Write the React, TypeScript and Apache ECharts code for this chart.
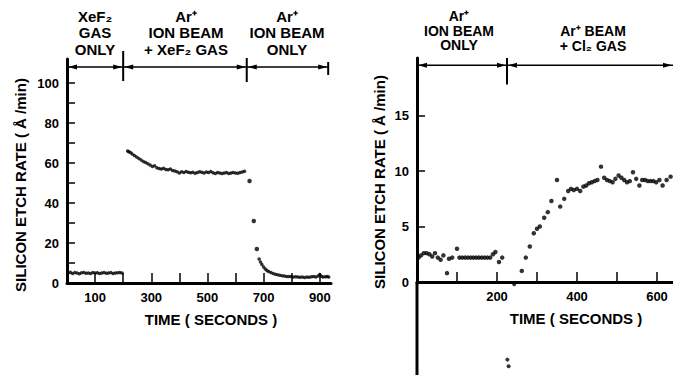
import React, { useEffect, useRef } from "react";
import * as echarts from "echarts";

const FONT = '"Liberation Sans", Arial, sans-serif';

// Left panel: silicon etch rate (Å/min) vs time (s) under XeF2 gas and Ar+ ion beam
const xef2GasOnly: [number, number][] = [
  [4, 5.0], [12, 5.4], [20, 4.8], [28, 5.2], [36, 5.0], [44, 4.6], [52, 5.1], [60, 5.3],
  [68, 4.9], [76, 5.0], [84, 4.7], [92, 5.2], [100, 5.0], [108, 5.1], [116, 4.8], [124, 5.0],
  [132, 5.3], [140, 4.9], [148, 5.0], [156, 5.2], [164, 4.8], [172, 5.0], [180, 5.1], [188, 5.3],
  [196, 5.0],
];

const ionBeamPlusXef2: [number, number][] = [
  [216, 66.0], [220, 65.6], [226, 65.2], [232, 64.5], [240, 63.8], [248, 63.0], [256, 62.2],
  [264, 61.5], [272, 60.8], [280, 60.2], [288, 59.6], [296, 59.0], [304, 58.2], [312, 58.6],
  [320, 57.6], [328, 57.3], [336, 57.0], [344, 57.4], [352, 56.8], [360, 56.6], [368, 57.0],
  [376, 56.3], [384, 56.0], [392, 55.6], [400, 55.0], [408, 55.6], [416, 55.3], [424, 55.8],
  [432, 55.4], [440, 55.1], [448, 55.4], [456, 54.9], [464, 55.3], [472, 55.6], [480, 55.4],
  [488, 55.0], [496, 55.5], [504, 55.2], [512, 55.7], [520, 55.1], [528, 54.8], [536, 55.2],
  [544, 55.0], [552, 54.7], [560, 55.0], [568, 55.3], [576, 54.8], [584, 55.0], [592, 55.2],
  [600, 55.0], [608, 54.9], [616, 55.3], [624, 55.5], [632, 55.9],
];

const xef2Decay: [number, number][] = [[650, 51], [665, 31], [676, 17]];

const ionBeamOnlyLeft: [number, number][] = [
  [684, 12.0], [689, 10.5], [694, 9.2], [700, 8.0], [706, 7.0], [712, 6.3], [718, 5.7],
  [726, 5.2], [734, 4.8], [742, 4.4], [750, 4.1], [758, 3.9], [766, 3.6], [774, 3.5],
  [782, 3.3], [790, 3.2], [798, 3.3], [806, 3.0], [814, 3.1], [822, 3.0], [830, 2.9],
  [838, 3.0], [846, 2.8], [854, 3.0], [862, 2.9], [870, 3.1], [878, 3.2], [886, 3.0],
  [894, 3.5], [900, 4.2], [906, 3.4], [912, 3.0], [920, 3.1], [926, 3.2], [932, 3.0],
];

// Right panel: Ar+ ion beam alone, then with Cl2 gas
const ionBeamOnlyRight: [number, number][] = [
  [4, 2.2], [10, 2.4], [17, 2.6], [24, 2.6], [31, 2.5], [38, 2.3], [45, 2.6], [52, 2.2],
  [59, 2.0], [66, 2.4], [75, 0.8], [80, 2.1], [88, 2.2], [100, 3.0], [106, 2.2], [113, 2.2],
  [120, 2.2], [127, 2.2], [134, 2.2], [141, 2.2], [148, 2.2], [155, 2.2], [162, 2.2],
  [169, 2.2], [176, 2.2], [183, 2.2], [190, 2.5], [196, 2.7], [205, 1.8], [213, 2.2],
];

const strayPoints: [number, number][] = [[226, -7.0], [229, -7.6], [243, -0.2]];

const ionBeamPlusCl2: [number, number][] = [
  [262, 1.0], [272, 2.2], [282, 3.2], [292, 4.4], [300, 4.8], [307, 5.0], [318, 5.8],
  [327, 6.3], [336, 7.3], [350, 9.2], [358, 6.8], [368, 7.5], [378, 8.2], [385, 8.4],
  [392, 8.3], [400, 8.4], [408, 8.2], [416, 8.6], [423, 8.7], [430, 8.9], [437, 9.0],
  [444, 9.1], [451, 9.2], [460, 10.4], [468, 9.4], [475, 9.2], [482, 9.1], [489, 9.0],
  [496, 9.3], [504, 9.6], [511, 9.4], [518, 9.2], [525, 9.0], [532, 9.1], [540, 9.9],
  [548, 9.3], [556, 8.7], [563, 9.2], [570, 9.2], [577, 9.1], [584, 9.1], [591, 9.1],
  [598, 9.0], [606, 9.2], [614, 8.7], [624, 9.2], [634, 9.5],
];

// Axis ticks and labels
const leftXTicks = [100, 200, 300, 400, 500, 600, 700, 800, 900];
const leftXLabels = [100, 300, 500, 700, 900];
const leftYTicks = [10, 20, 30, 40, 50, 60, 70, 80, 90, 100];
const leftYLabels = [0, 20, 40, 60, 80, 100];
const rightXTicks = [100, 200, 300, 400, 500, 600];
const rightXLabels = [200, 400, 600];
const rightYTicks = [5, 10, 15];
const rightYLabels = [0, 5, 10, 15];

// Process phases shown by the arrows above each panel
const leftPhases = [0, 200, 640, 930];
const rightPhases = [0, 225, 640];

const leftTitles = [
  { x: 95, text: "XeF₂\nGAS\nONLY" },
  { x: 186, text: "Ar⁺\nION BEAM\n+ XeF₂ GAS" },
  { x: 287, text: "Ar⁺\nION BEAM\nONLY" },
];
const rightTitles = [
  { x: 459, y: 30.5, text: "Ar⁺\nION BEAM\nONLY" },
  { x: 593, y: 38.5, text: "Ar⁺ BEAM\n+ Cl₂ GAS" },
];

const axisLabelStyle = {
  color: "#000",
  fontFamily: FONT,
  fontWeight: "bold" as const,
  fontSize: 13,
};

function makeXAxis(gridIndex: number, max: number, ticks: number[], labels: number[]) {
  return {
    type: "value",
    gridIndex,
    min: 0,
    max,
    splitLine: { show: false },
    axisLine: { show: true, onZero: false, lineStyle: { color: "#000", width: 3 } },
    axisTick: { show: true, inside: true, length: 10, lineStyle: { color: "#000", width: 1.5 }, customValues: ticks },
    axisLabel: { ...axisLabelStyle, margin: 8, customValues: labels },
  };
}

function makeYAxis(gridIndex: number, max: number, ticks: number[], labels: number[]) {
  return {
    type: "value",
    gridIndex,
    min: 0,
    max,
    splitLine: { show: false },
    axisLine: { show: true, onZero: false, lineStyle: { color: "#000", width: 3 } },
    axisTick: { show: true, inside: true, length: 8, lineStyle: { color: "#000", width: 1.5 }, customValues: ticks },
    axisLabel: { ...axisLabelStyle, margin: 8, customValues: labels },
  };
}

function dots(data: [number, number][], gridIndex: number, size: number) {
  return {
    type: "scatter",
    xAxisIndex: gridIndex,
    yAxisIndex: gridIndex,
    data,
    symbol: "circle",
    symbolSize: size,
    itemStyle: { color: "#000" },
    clip: false,
    silent: true,
  };
}

export default function App() {
  const ref = useRef<HTMLDivElement>(null);

  useEffect(() => {
    const chart = echarts.init(ref.current!, null, { renderer: "svg" });
    chart.setOption({
      animation: false,
      backgroundColor: "#fff",
      grid: [
        { left: 67, top: 59, width: 264, height: 224, outerBoundsMode: "none" },
        { left: 417, top: 58, width: 256, height: 224, outerBoundsMode: "none" },
      ],
      xAxis: [
        makeXAxis(0, 940, leftXTicks, leftXLabels),
        makeXAxis(1, 640, rightXTicks, rightXLabels),
      ],
      yAxis: [
        makeYAxis(0, 112, leftYTicks, leftYLabels),
        makeYAxis(1, 20.2, rightYTicks, rightYLabels),
      ],
      series: [
        dots(xef2GasOnly, 0, 3.5),
        dots(ionBeamPlusXef2, 0, 3.5),
        dots(xef2Decay, 0, 4.5),
        dots(ionBeamOnlyLeft, 0, 3.5),
        dots(ionBeamOnlyRight, 1, 4.5),
        dots(strayPoints, 1, 4),
        dots(ionBeamPlusCl2, 1, 4.5),
      ],
    });

    const px = (g: number, x: number, y: number) =>
      chart.convertToPixel({ gridIndex: g }, [x, y]) as number[];

    const elements: any[] = [];
    const stroke = { stroke: "#000", lineWidth: 1.5 };
    const head = (tx: number, ty: number, dir: number) => ({
      type: "polygon",
      shape: { points: [[tx, ty], [tx + dir * 9, ty - 2.5], [tx + dir * 9, ty + 2.5]] },
      style: { fill: "#000" },
    });
    const segment = (a: number[], b: number[], width: number) => {
      elements.push({ type: "line", shape: { x1: a[0], y1: a[1], x2: b[0], y2: b[1] }, style: { stroke: "#000", lineWidth: width } });
    };
    const phaseArrows = (g: number, phases: number[], yVal: number) => {
      for (let i = 0; i < phases.length - 1; i++) {
        const a = px(g, phases[i], yVal);
        const b = px(g, phases[i + 1], yVal);
        elements.push({ type: "line", shape: { x1: a[0], y1: a[1], x2: b[0], y2: b[1] }, style: stroke });
        elements.push(head(a[0] + 1, a[1], 1));
        elements.push(head(b[0] - 1, b[1], -1));
      }
    };
    const divider = (g: number, x: number, y1: number, y2: number) => {
      segment(px(g, x, y1), px(g, x, y2), 2);
    };

    phaseArrows(0, leftPhases, 108);
    divider(0, 200, 116, 101);
    divider(0, 640, 112.5, 100.5);
    divider(0, 930, 110.5, 104);
    phaseArrows(1, rightPhases, 19.55);
    divider(1, 225, 20.2, 17.8);
    // rate axis of the right panel runs on below zero
    segment(px(1, 0, 0), px(1, 0, -8.4), 3);

    const textStyle = (size: number, lineHeight?: number) => ({
      fill: "#000",
      font: `bold ${size}px ${FONT}`,
      align: "center",
      verticalAlign: "middle",
      ...(lineHeight ? { lineHeight } : {}),
    });
    leftTitles.forEach((t) =>
      elements.push({ type: "text", x: t.x, y: 32.5, style: { ...textStyle(15, 16.5), text: t.text } })
    );
    rightTitles.forEach((t) =>
      elements.push({ type: "text", x: t.x, y: t.y, style: { ...textStyle(14, 14.5), text: t.text } })
    );

    const yTitle = "SILICON ETCH RATE ( Å /min)";
    elements.push({ type: "text", x: 20, y: 185, rotation: Math.PI / 2, style: { ...textStyle(15), text: yTitle } });
    elements.push({ type: "text", x: 379, y: 182, rotation: Math.PI / 2, style: { ...textStyle(15), text: yTitle } });
    elements.push({ type: "text", x: 211, y: 319, style: { ...textStyle(15), text: "TIME ( SECONDS )" } });
    elements.push({ type: "text", x: 576, y: 318, style: { ...textStyle(15), text: "TIME ( SECONDS )" } });

    chart.setOption({ graphic: elements });
    return () => chart.dispose();
  }, []);

  return <div ref={ref} style={{ position: "absolute", left: 0, top: 0, width: 673, height: 375 }} />;
}
